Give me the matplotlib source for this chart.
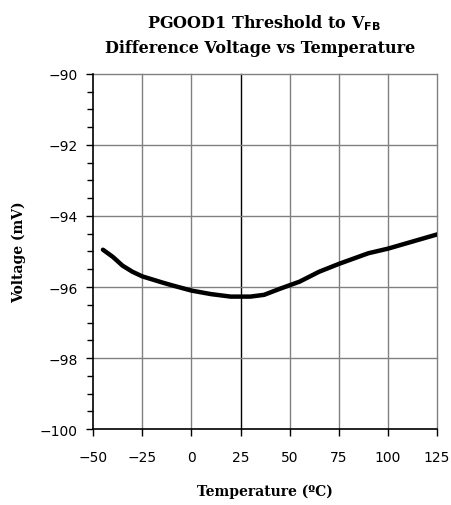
import numpy as np
import matplotlib.pyplot as plt
from matplotlib.ticker import MultipleLocator

# data
temp = [-45, -40, -35, -30, -25, -15, -10, 0, 10, 20, 30, 37, 45, 55, 65, 75, 90, 100, 110, 125]
volt = [-94.95, -95.15, -95.4, -95.57, -95.7, -95.87, -95.95, -96.1, -96.2, -96.27, -96.27,
        -96.22, -96.05, -95.85, -95.57, -95.35, -95.05, -94.92, -94.76, -94.52]

xticks = [-50, -25, 0, 25, 50, 75, 100, 125]
yticks = [-100, -98, -96, -94, -92, -90]

plt.rcParams['font.family'] = ['DejaVu Sans']

fig = plt.figure(figsize=(4.52, 5.06), dpi=100)
ax = fig.add_axes([0.206, 0.150, 0.761, 0.702])

grid_col = "#808080"
for x in xticks[1:]:
    ax.axvline(x, color=grid_col if x != 25 else "black", lw=1.0, zorder=1, clip_on=False)
for y in yticks[1:]:
    ax.axhline(y, color=grid_col, lw=1.0, zorder=1, clip_on=False)

ax.plot(temp, volt, color="black", lw=3.2, solid_capstyle="round", zorder=3)

ax.set_xlim(-50, 125)
ax.set_ylim(-100, -90)
ax.set_xticks(xticks)
ax.set_yticks(yticks)
ax.yaxis.set_minor_locator(MultipleLocator(0.5))
ax.tick_params(axis="both", which="major", direction="out", length=5, width=1, labelsize=10, color="black")
ax.tick_params(axis="y", which="minor", direction="out", length=4, width=1)
ax.tick_params(axis="x", pad=10)
ax.tick_params(axis="y", pad=6)

for s in ["top", "right"]:
    ax.spines[s].set_visible(False)
ax.spines["left"].set_linewidth(1.2)
ax.spines["bottom"].set_linewidth(1.2)

ax.set_xlabel("Temperature (ºC)", fontsize=10, fontweight="bold", family="DejaVu Serif", labelpad=14)
ax.set_ylabel("Voltage (mV)", fontsize=10, fontweight="bold", family="DejaVu Serif", labelpad=10)

fig.text(0.585, 0.955, r"PGOOD1 Threshold to V$_{\mathbf{FB}}$", ha="center", va="center",
         fontsize=11.5, fontweight="bold", family="DejaVu Serif")
fig.text(0.575, 0.905, "Difference Voltage vs Temperature", ha="center", va="center",
         fontsize=11.5, fontweight="bold", family="DejaVu Serif")

fig.savefig("out.png", dpi=100)
